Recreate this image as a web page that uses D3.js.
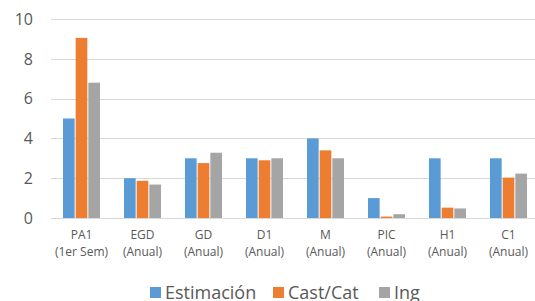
<!DOCTYPE html>
<html lang="es">
<head>
<meta charset="UTF-8">
<title>Estimación vs Cast/Cat vs Ing</title>
<script src="https://d3js.org/d3.v7.min.js"></script>
<style>
  body { margin:0; background:#fff; overflow:hidden; }
  svg { display:block; font-family:"Open Sans", "Noto Sans", sans-serif; }
</style>
</head>
<body>
<svg id="chart" width="535" height="301"></svg>
<script>
// data
var cats = ["PA1", "EGD", "GD", "D1", "M", "PIC", "H1", "C1"];
var subs = ["(1er Sem)", "(Anual)", "(Anual)", "(Anual)", "(Anual)", "(Anual)", "(Anual)", "(Anual)"];
var seriesNames = ["Estimación", "Cast/Cat", "Ing"];
var estimacion = [5, 2, 3, 3, 4, 1, 3, 3];
var castCat = [9.05, 1.87, 2.76, 2.9, 3.4, 0.07, 0.52, 2.03];
var ing = [6.8, 1.68, 3.28, 3, 3, 0.19, 0.48, 2.23];
var yTicks = [0, 2, 4, 6, 8, 10];
var colors = ["#5B9BD5", "#ED7D31", "#A5A5A5"];

var svg = d3.select("#chart");
var allSeries = [estimacion, castCat, ing];

var x = d3.scaleBand().domain(cats).range([51, 539]);
var y = d3.scaleLinear().domain([0, 10]).range([218, 19]);
var inner = d3.scaleBand().domain(d3.range(3)).range([0, 37]).paddingInner(0.08);
var groupOffset = (x.bandwidth() - 37) / 2;

// gridlines
svg.append("g")
  .selectAll("line")
  .data(yTicks)
  .enter().append("line")
    .attr("x1", 51).attr("x2", 539)
    .attr("y1", function(d) { return Math.round(y(d)) + 0.5; })
    .attr("y2", function(d) { return Math.round(y(d)) + 0.5; })
    .attr("stroke", "#D9D9D9")
    .attr("stroke-width", 1);

// y labels
svg.append("g")
  .selectAll("text")
  .data(yTicks)
  .enter().append("text")
    .attr("x", 33)
    .attr("y", function(d) { return y(d); })
    .attr("dy", "0.36em")
    .attr("text-anchor", "end")
    .attr("fill", "#595959")
    .style("font-size", "16px")
    .text(function(d) { return d; });

// bars
var groups = svg.append("g")
  .selectAll("g")
  .data(cats)
  .enter().append("g")
    .attr("transform", function(d) { return "translate(" + (x(d) + groupOffset) + ",0)"; });

groups.selectAll("rect")
  .data(function(d, i) { return allSeries.map(function(s, k) { return {k: k, v: s[i]}; }); })
  .enter().append("rect")
    .attr("x", function(d) { return inner(d.k); })
    .attr("width", inner.bandwidth())
    .attr("y", function(d) { return y(d.v); })
    .attr("height", function(d) { return y(0) - y(d.v); })
    .attr("fill", function(d) { return colors[d.k]; });

// x labels
var xl = svg.append("g")
  .selectAll("text")
  .data(cats)
  .enter().append("text")
    .attr("text-anchor", "middle")
    .attr("fill", "#595959")
    .style("font-size", "12px");
xl.append("tspan")
  .attr("x", function(d) { return x(d) + x.bandwidth() / 2; })
  .attr("y", 239)
  .text(function(d) { return d; });
xl.append("tspan")
  .attr("x", function(d) { return x(d) + x.bandwidth() / 2; })
  .attr("y", 256)
  .text(function(d, i) { return subs[i]; });

// legend
var legX = [150, 273, 379];
var leg = svg.append("g")
  .selectAll("g")
  .data(seriesNames)
  .enter().append("g")
    .attr("transform", function(d, i) { return "translate(" + legX[i] + ",287)"; });
leg.append("rect")
  .attr("width", 11).attr("height", 11)
  .attr("fill", function(d, i) { return colors[i]; });
leg.append("text")
  .attr("x", 15)
  .attr("y", 6)
  .attr("dy", "0.36em")
  .attr("fill", "#595959")
  .style("font-size", "18px")
  .text(function(d) { return d; });
</script>
</body>
</html>
